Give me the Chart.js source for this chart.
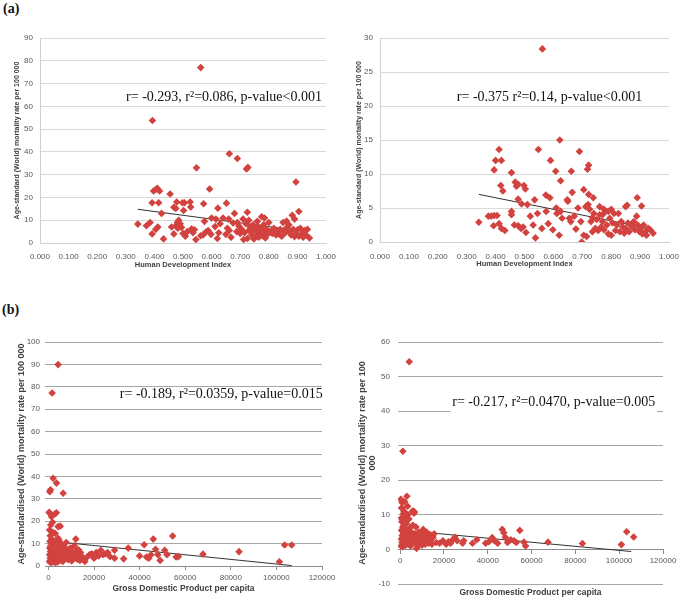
<!DOCTYPE html>
<html lang="en">
<head>
  <meta charset="UTF-8">
  <title>Mortality vs HDI and GDP</title>
  <script src="https://cdn.jsdelivr.net/npm/chart.js"></script>
  <style>
    body {
      margin: 0;
      background: #fff;
      width: 685px;
      height: 603px;
      position: relative;
      overflow: hidden;
    }
    canvas {
      position: absolute;
    }
    .tag {
      position: absolute;
      font-family: "Liberation Serif", serif;
      font-weight: bold;
      font-size: 14px;
      color: #111;
    }
  </style>
</head>
<body>
  <div class="tag" style="left:3px; top:1px;">(a)</div>
  <div class="tag" style="left:2px; top:302px;">(b)</div>
  <canvas id="a1" width="342" height="290" style="left:0; top:0;"></canvas>
  <canvas id="a2" width="345" height="290" style="left:340px; top:0;"></canvas>
  <canvas id="b1" width="342" height="303" style="left:0; top:300px;"></canvas>
  <canvas id="b2" width="345" height="303" style="left:340px; top:300px;"></canvas>

  <script>
    // ---- data ----

    // (a) left: HDI vs age-standard mortality
    const hdiA1 = [
      0.562, 0.393, 0.662, 0.690, 0.722, 0.727, 0.547, 0.895, 0.593, 0.397,
      0.405, 0.410, 0.418, 0.455, 0.392, 0.415, 0.468, 0.478, 0.475, 0.498,
      0.505, 0.502, 0.525, 0.527, 0.572, 0.652, 0.622, 0.425, 0.680, 0.725,
      0.905, 0.882, 0.775, 0.785, 0.600, 0.615, 0.640, 0.710, 0.862, 0.850,
      0.870, 0.485, 0.480, 0.490, 0.342, 0.372, 0.385, 0.392, 0.405, 0.412,
      0.432, 0.460, 0.468, 0.475, 0.482, 0.495, 0.500, 0.508, 0.515, 0.530,
      0.535, 0.540, 0.545, 0.562, 0.575, 0.570, 0.580, 0.588, 0.598, 0.612,
      0.620, 0.625, 0.630, 0.650, 0.655, 0.662, 0.668, 0.675, 0.688, 0.695,
      0.700, 0.705, 0.712, 0.715, 0.720, 0.725, 0.730, 0.735, 0.740, 0.742,
      0.745, 0.748, 0.752, 0.755, 0.758, 0.762, 0.765, 0.768, 0.772, 0.775,
      0.778, 0.782, 0.785, 0.788, 0.792, 0.795, 0.800, 0.805, 0.812, 0.818,
      0.825, 0.830, 0.835, 0.840, 0.845, 0.852, 0.858, 0.865, 0.872, 0.878,
      0.885, 0.890, 0.895, 0.900, 0.905, 0.910, 0.915, 0.920, 0.925, 0.930,
      0.935, 0.942, 0.760, 0.730, 0.690, 0.660, 0.890
    ];
    const rateA1 = [
      77.0, 53.8, 39.2, 37.1, 32.5, 33.2, 33.0, 26.8, 23.7, 22.8,
      23.5, 24.0, 22.8, 21.5, 17.7, 17.7, 15.7, 18.0, 15.2, 17.7,
      17.7, 14.3, 18.0, 15.8, 17.2, 17.5, 15.3, 13.0, 13.0, 13.5,
      13.8, 12.2, 11.5, 11.0, 11.0, 10.5, 11.0, 10.5, 9.6, 9.0,
      8.0, 10.0, 9.0, 8.5, 8.3, 7.6, 9.0, 4.0, 6.0, 7.0,
      1.8, 7.0, 4.0, 7.5, 6.5, 6.8, 4.2, 3.0, 5.0, 6.2,
      4.5, 5.8, 1.5, 3.2, 9.5, 3.5, 4.8, 5.5, 3.8, 7.2,
      2.0, 4.5, 8.5, 3.8, 6.5, 5.5, 2.5, 8.8, 5.0, 7.5,
      4.2, 6.0, 1.5, 4.5, 8.5, 2.0, 5.5, 7.0, 3.5, 5.0,
      8.0, 1.8, 6.0, 3.0, 4.8, 7.2, 2.5, 5.5, 4.0, 6.5,
      3.2, 8.0, 5.0, 2.2, 6.0, 3.8, 9.0, 5.0, 4.2, 6.5,
      3.5, 5.2, 4.0, 6.0, 3.0, 5.5, 4.5, 7.0, 5.0, 3.5,
      6.0, 2.8, 4.2, 5.8, 3.0, 6.5, 4.0, 2.5, 5.5, 3.5,
      6.0, 2.2, 9.5, 10.0, 9.0, 10.5, 10.5
    ];
    const trendHdiA1 = [0.342, 0.930];
    const trendRateA1 = [14.8, 5.0];

    // (a) right: HDI vs age-standard mortality
    const hdiA2 = [
      0.562, 0.622, 0.548, 0.412, 0.690, 0.400, 0.420, 0.590, 0.722, 0.718,
      0.395, 0.455, 0.608, 0.662, 0.625, 0.468, 0.472, 0.478, 0.498, 0.503,
      0.418, 0.425, 0.705, 0.722, 0.665, 0.574, 0.588, 0.478, 0.535, 0.650,
      0.890, 0.850, 0.855, 0.905, 0.720, 0.712, 0.725, 0.775, 0.800, 0.760,
      0.490, 0.510, 0.455, 0.610, 0.625, 0.342, 0.375, 0.385, 0.395, 0.405,
      0.393, 0.412, 0.420, 0.432, 0.455, 0.465, 0.478, 0.488, 0.495, 0.505,
      0.520, 0.530, 0.538, 0.545, 0.560, 0.575, 0.582, 0.598, 0.612, 0.620,
      0.630, 0.655, 0.660, 0.672, 0.678, 0.685, 0.695, 0.698, 0.705, 0.715,
      0.730, 0.735, 0.740, 0.745, 0.750, 0.755, 0.760, 0.765, 0.770, 0.775,
      0.780, 0.785, 0.790, 0.795, 0.800, 0.805, 0.810, 0.815, 0.820, 0.825,
      0.830, 0.835, 0.840, 0.845, 0.850, 0.858, 0.862, 0.868, 0.872, 0.878,
      0.882, 0.888, 0.892, 0.898, 0.902, 0.908, 0.912, 0.918, 0.922, 0.928,
      0.935, 0.945, 0.738, 0.770, 0.790, 0.648, 0.735
    ];
    const rateA2 = [
      28.4, 15.0, 13.6, 13.6, 13.3, 12.0, 12.0, 12.0, 11.3, 10.7,
      10.6, 10.2, 10.4, 10.4, 9.0, 8.8, 8.2, 8.5, 8.3, 7.8,
      8.3, 7.5, 7.7, 7.0, 7.3, 6.9, 6.5, 6.3, 6.2, 6.0,
      6.5, 5.2, 5.4, 5.3, 5.5, 5.2, 4.8, 4.8, 4.8, 5.2,
      5.6, 5.5, 4.5, 5.0, 4.5, 2.9, 3.8, 3.8, 3.9, 3.9,
      2.4, 2.7, 2.0, 1.7, 4.0, 2.5, 2.4, 2.0, 2.2, 1.4,
      3.8, 2.5, 0.6, 4.2, 2.0, 4.5, 2.7, 1.8, 4.2, 1.0,
      3.5, 3.5, 3.0, 3.8, 1.9, 5.0, 3.0, 0.0, 1.0, 0.8,
      3.0, 1.5, 4.2, 2.0, 3.3, 1.7, 4.0, 2.2, 3.0, 1.8,
      4.5, 2.5, 1.2, 3.5, 1.0, 2.8, 4.2, 1.7, 2.5, 4.2,
      1.5, 3.0, 2.2, 1.3, 2.0, 2.8, 1.5, 2.5, 2.2, 3.0,
      1.8, 3.8, 2.5, 1.5, 2.0, 1.2, 2.5, 1.5, 1.0, 2.0,
      1.8, 1.3, 6.5, 4.0, 4.5, 6.2, 3.6
    ];
    const trendHdiA2 = [0.342, 0.930];
    const trendRateA2 = [7.0, 2.0];

    // (b) left: GDP per capita vs age-standardised mortality
    const gdpB1 = [
      1620, 4260, 2070, 3550, 600, 900, 6450, 600, 2800, 1360,
      300, 3500, 1000, 4260, 500, 5200, 2000, 3000, 4260, 800,
      1800, 400, 500, 600, 700, 800, 900, 1000, 1100, 1200,
      1300, 1400, 1500, 1600, 1700, 1800, 1900, 2000, 2100, 2200,
      2300, 2400, 2500, 2600, 2700, 2800, 2900, 3000, 3100, 3200,
      3300, 3400, 3500, 3600, 3700, 3800, 3900, 4000, 4200, 4400,
      4600, 4800, 5000, 5200, 5400, 5600, 5800, 6000, 6300, 6600,
      6900, 7200, 7500, 7800, 8100, 8400, 8700, 9000, 9300, 9600,
      9900, 10200, 10500, 10800, 11100, 11400, 11700, 12000, 12300, 12600,
      12900, 13200, 13500, 13800, 14100, 14500, 15000, 16000, 17000, 18000,
      19000, 20000, 21000, 22000, 23000, 24000, 25000, 26000, 27000, 29000,
      29000, 33000, 35000, 40000, 42000, 43000, 44000, 45000, 46000, 47000,
      48000, 49000, 51000, 52000, 54500, 56000, 57000, 67800, 83600, 101300,
      103600, 106700
    ];
    const rateB1 = [
      77.2, 89.9, 39.2, 37.0, 33.2, 34.0, 32.5, 23.6, 23.2, 22.0,
      24.0, 23.8, 18.3, 17.6, 16.1, 17.8, 15.0, 14.5, 12.4, 13.5,
      19.5, 2.0, 5.0, 8.0, 11.0, 3.5, 6.5, 9.0, 1.5, 4.5,
      7.0, 12.0, 2.5, 10.0, 5.5, 8.0, 3.0, 6.0, 1.8, 9.5,
      4.0, 7.2, 2.2, 11.0, 5.0, 3.2, 8.5, 6.2, 1.5, 4.8,
      10.0, 7.5, 2.8, 5.5, 9.0, 3.8, 6.8, 1.8, 8.0, 4.2,
      11.5, 6.0, 2.5, 5.0, 7.8, 3.5, 9.8, 4.5, 2.0, 6.5,
      8.5, 3.2, 5.2, 10.5, 4.0, 7.0, 2.8, 5.8, 3.8, 8.0,
      4.8, 2.2, 6.2, 3.5, 5.5, 9.0, 4.2, 12.0, 6.8, 3.0,
      5.0, 7.2, 4.0, 2.5, 6.0, 4.5, 3.2, 2.0, 4.0, 5.0,
      5.5, 3.5, 6.0, 4.5, 7.0, 5.0, 5.5, 6.0, 4.2, 7.0,
      3.5, 3.2, 8.0, 4.5, 9.5, 4.0, 3.5, 5.0, 12.0, 7.5,
      5.0, 2.5, 7.0, 5.0, 13.4, 4.0, 4.2, 5.3, 6.4, 1.9,
      9.4, 9.4
    ];
    const trendGdpB1 = [0, 106700];
    const trendRateB1 = [11.2, 0.2];

    // (b) right: GDP per capita vs age-standardised mortality
    const gdpB2 = [
      4120, 1220, 3050, 300, 800, 600, 6000, 6500, 1500, 3500,
      500, 400, 500, 600, 700, 800, 900, 1000, 1100, 1200,
      1300, 1400, 1500, 1600, 1700, 1800, 1900, 2000, 2100, 2200,
      2300, 2400, 2500, 2600, 2700, 2800, 2900, 3000, 3200, 3400,
      3600, 3800, 4000, 4200, 4400, 4600, 4800, 5000, 5200, 5500,
      5800, 6000, 6300, 6600, 6900, 7200, 7500, 7800, 8100, 8400,
      8700, 9000, 9300, 9600, 9900, 10200, 10500, 10800, 11100, 11400,
      11700, 12000, 12300, 12600, 12900, 13200, 13500, 13800, 14100, 14500,
      15000, 15500, 16500, 18000, 19500, 21000, 22000, 23000, 24000, 25000,
      26000, 28500, 29000, 33000, 35000, 39000, 40500, 42000, 43000, 44500,
      46600, 47300, 48000, 49000, 50500, 52000, 53000, 54600, 56500, 57250,
      67500, 83200, 101000, 103400, 106600
    ];
    const rateB2 = [
      54.3, 28.4, 15.4, 14.5, 13.6, 12.0, 11.1, 10.8, 10.4, 10.0,
      9.0, 1.0, 3.0, 5.5, 8.0, 2.0, 4.0, 12.0, 0.8, 6.5,
      3.2, 9.5, 1.8, 7.0, 4.5, 11.0, 2.5, 5.2, 13.8, 3.5,
      8.5, 1.2, 6.0, 4.0, 10.0, 2.2, 7.5, 3.0, 5.5, 12.5,
      1.5, 4.2, 8.8, 2.8, 6.2, 3.6, 1.0, 5.0, 2.4, 11.0,
      7.0, 3.2, 10.5, 4.5, 1.8, 6.5, 0.3, 3.8, 2.5, 5.0,
      1.5, 3.5, 2.2, 4.8, 1.2, 3.0, 5.8, 2.0, 4.0, 1.5,
      3.2, 5.0, 2.5, 4.5, 1.8, 3.0, 2.0, 4.2, 2.8, 1.5,
      3.5, 4.5, 2.0, 1.8, 2.5, 1.5, 2.2, 1.8, 2.8, 3.5,
      2.5, 1.8, 2.5, 1.8, 2.8, 1.8, 2.2, 3.4, 2.5, 1.8,
      5.8, 4.8, 3.5, 2.0, 2.8, 2.5, 2.0, 5.5, 2.1, 1.0,
      2.1, 1.7, 1.4, 5.1, 3.6
    ];
    const trendGdpB2 = [0, 105500];
    const trendRateB2 = [5.6, -0.6];

    // tick labels
    const hdiTicks = [0, 0.1, 0.2, 0.3, 0.4, 0.5, 0.6, 0.7, 0.8, 0.9, 1.0];
    const gdpTicks = [0, 20000, 40000, 60000, 80000, 100000, 120000];

    // annotation texts
    const noteA1 = 'r= -0.293, r\u00B2=0.086, p-value<0.001';
    const noteA2 = 'r= -0.375 r\u00B2=0.14, p-value<0.001';
    const noteB1 = 'r= -0.189, r\u00B2=0.0359, p-value=0.015';
    const noteB2 = 'r= -0.217, r\u00B2=0.0470, p-value=0.005';

    const RED = '#d2423f';
    const TICK = '#595959';
    const TITLE = '#404040';

    // draws the r / p-value text, on a white box in the (b) panels
    const notePlugin = {
      id: 'note',
      beforeDatasetsDraw(chart, args, opts) {
        if (!opts.text) return;
        const ctx = chart.ctx;
        const x = chart.scales.x.getPixelForValue(opts.x);
        const y = chart.scales.y.getPixelForValue(opts.y);
        ctx.save();
        ctx.font = opts.size + 'px "Liberation Serif", "Times New Roman", serif';
        const w = ctx.measureText(opts.text).width;
        if (opts.box) {
          ctx.fillStyle = '#fff';
          ctx.fillRect(x - 2, y - opts.size * 0.42, w + 4, opts.size * 1.12);
        }
        ctx.fillStyle = '#111';
        ctx.textBaseline = 'middle';
        ctx.fillText(opts.text, x, y);
        ctx.restore();
      }
    };

    function makePanel(id, o) {
      const pts = o.xs.map((x, i) => ({ x: x, y: o.ys[i] }));
      const trend = o.tx.map((x, i) => ({ x: x, y: o.ty[i] }));
      return new Chart(document.getElementById(id), {
        type: 'scatter',
        data: {
          datasets: [{
            data: pts,
            pointStyle: 'rectRot',
            pointRadius: 3.8,
            pointBorderWidth: 0,
            backgroundColor: RED,
            borderColor: RED
          }, {
            type: 'line',
            data: trend,
            borderColor: '#333',
            borderWidth: 1,
            pointRadius: 0,
            fill: false
          }]
        },
        options: {
          responsive: false,
          animation: false,
          layout: { padding: o.padding },
          plugins: {
            legend: { display: false },
            tooltip: { enabled: false },
            note: o.note
          },
          scales: {
            x: {
              type: 'linear',
              position: o.xPosition || 'bottom',
              min: o.xMin,
              max: o.xMax,
              afterFit: s => { s.height = o.xHeight; },
              afterBuildTicks: s => { s.ticks = o.xTicks.map(v => ({ value: v })); },
              grid: {
                display: o.xTickMarks,
                drawOnChartArea: false,
                drawTicks: true,
                tickLength: 4,
                color: '#8c8c8c'
              },
              border: { display: true, color: o.xBorder, width: 1 },
              ticks: {
                autoSkip: false,
                maxRotation: 0,
                padding: o.xTickPad,
                color: TICK,
                font: { family: 'Liberation Sans', size: 8 },
                callback: o.xFormat
              },
              title: {
                display: true,
                text: o.xTitle,
                color: TITLE,
                font: { family: 'Liberation Sans', size: o.xTitleSize, weight: 'bold' },
                padding: { top: 0, bottom: o.xTitlePad }
              }
            },
            y: {
              min: o.yMin,
              max: o.yMax,
              afterFit: s => { s.width = o.yWidth; },
              ticks: {
                stepSize: o.yStep,
                padding: o.yTickPad,
                color: TICK,
                font: { family: 'Liberation Sans', size: 8 }
              },
              grid: {
                color: o.gridColor,
                drawTicks: false
              },
              border: { display: o.yBorder, color: '#d0d0d0' },
              title: {
                display: true,
                text: o.yTitle,
                color: TITLE,
                font: { family: 'Liberation Sans', size: o.yTitleSize, weight: 'bold', lineHeight: 1.1 },
                padding: { top: o.yTitlePad, bottom: 0 }
              }
            }
          }
        },
        plugins: [notePlugin]
      });
    }

    const hdiFormat = v => Number(v).toFixed(3);
    const gdpFormat = v => String(v);

    makePanel('a1', {
      xs: hdiA1, ys: rateA1, tx: trendHdiA1, ty: trendRateA1,
      padding: { left: 0, top: 38, right: 16, bottom: 0 },
      xMin: 0, xMax: 1, xTicks: hdiTicks, xFormat: hdiFormat,
      xHeight: 47, xTickPad: 5, xTickMarks: false, xBorder: '#d0d0d0',
      xTitle: 'Human Development Index', xTitleSize: 7.5, xTitlePad: 20.5,
      yMin: 0, yMax: 90, yStep: 10, yWidth: 40, yTickPad: 7,
      yTitle: 'Age-standard (World) mortality rate per 100 000', yTitleSize: 7, yTitlePad: 13.5,
      gridColor: '#d9d9d9', yBorder: true,
      note: { text: noteA1, x: 0.301, y: 64.1, size: 14, box: false }
    });

    makePanel('a2', {
      xs: hdiA2, ys: rateA2, tx: trendHdiA2, ty: trendRateA2,
      padding: { left: 0, top: 38, right: 16, bottom: 0 },
      xMin: 0, xMax: 1, xTicks: hdiTicks, xFormat: hdiFormat,
      xHeight: 48, xTickPad: 5.5, xTickMarks: false, xBorder: '#d0d0d0',
      xTitle: 'Human Development Index', xTitleSize: 7.5, xTitlePad: 21.5,
      yMin: 0, yMax: 30, yStep: 5, yWidth: 40, yTickPad: 7,
      yTitle: 'Age-standard (World) mortality rate per 100 000', yTitleSize: 7, yTitlePad: 15.5,
      gridColor: '#d9d9d9', yBorder: true,
      note: { text: noteA2, x: 0.266, y: 21.3, size: 14, box: false }
    });

    makePanel('b1', {
      xs: gdpB1, ys: rateB1, tx: trendGdpB1, ty: trendRateB1,
      padding: { left: 0, top: 42, right: 20, bottom: 0 },
      xMin: -1500, xMax: 120000, xTicks: gdpTicks, xFormat: gdpFormat,
      xHeight: 37, xTickPad: 3.2, xTickMarks: true, xBorder: '#8c8c8c',
      xTitle: 'Gross Domestic Product per capita', xTitleSize: 8.5, xTitlePad: 8.9,
      yMin: 0, yMax: 100, yStep: 10, yWidth: 45, yTickPad: 5,
      yTitle: 'Age-standardised (World) mortality rate per 100 000', yTitleSize: 9, yTitlePad: 16.5,
      gridColor: '#a6a6a6', yBorder: false,
      note: { text: noteB1, x: 31340, y: 76.8, size: 14, box: true }
    });

    makePanel('b2', {
      xs: gdpB2, ys: rateB2, tx: trendGdpB2, ty: trendRateB2,
      padding: { left: 0, top: 42, right: 22, bottom: 19 },
      xPosition: { y: 0 },
      xMin: -1000, xMax: 120000, xTicks: gdpTicks, xFormat: gdpFormat,
      xHeight: 48, xTickPad: 2.2, xTickMarks: true, xBorder: '#8c8c8c',
      xTitle: 'Gross Domestic Product per capita', xTitleSize: 8.5, xTitlePad: 0,
      yMin: -10, yMax: 60, yStep: 10, yWidth: 58, yTickPad: 8,
      yTitle: ['Age-standardised (World) mortality rate per 100', '000'], yTitleSize: 9, yTitlePad: 18,
      gridColor: '#a6a6a6', yBorder: false,
      note: { text: noteB2, x: 23800, y: 42.5, size: 14, box: true }
    });
  </script>
</body>
</html>
